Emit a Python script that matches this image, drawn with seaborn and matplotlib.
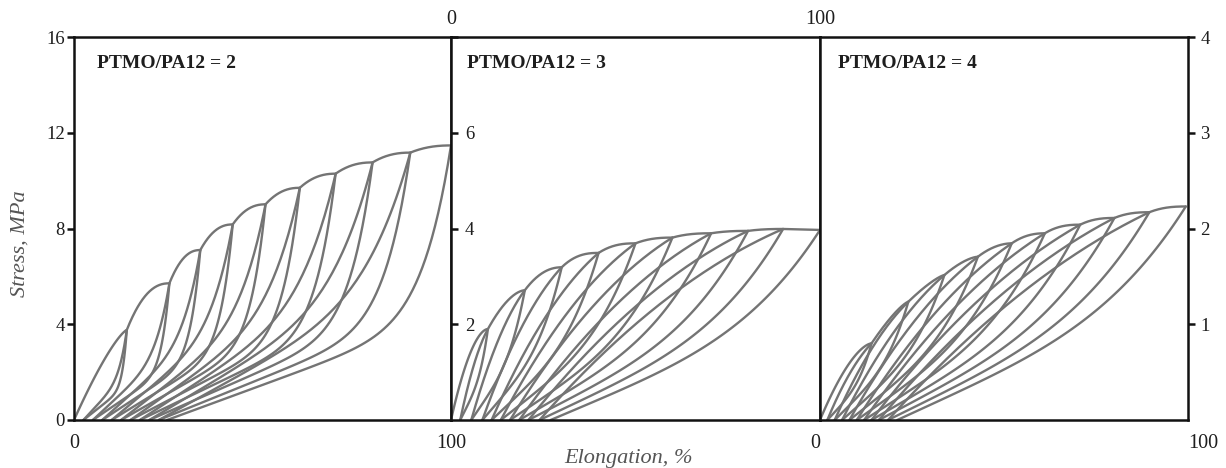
import numpy as np
import pandas as pd
import matplotlib
matplotlib.use("Agg")
import matplotlib.pyplot as plt
import seaborn as sns

# Peak strain (%), peak stress (MPa) and residual strain (%) of each loading cycle
strain_max_2 = [14.0, 25.3, 33.5, 42.1, 50.8, 59.9, 69.4, 79.2, 89.2, 100.0]
stress_max_2 = [3.76, 5.71, 7.10, 8.17, 9.01, 9.70, 10.29, 10.76, 11.17, 11.47]
residual_2 = [2.5, 5.0, 7.5, 10.0, 12.5, 15.0, 17.5, 20.0, 22.5, 24.7]

strain_max_3 = [10.0, 20.0, 30.0, 40.0, 50.0, 60.0, 70.5, 80.5, 90.0, 100.0]
stress_max_3 = [1.90, 2.71, 3.19, 3.49, 3.69, 3.81, 3.90, 3.95, 3.99, 3.97]
residual_3 = [2.5, 5.5, 8.5, 11.0, 13.5, 16.0, 18.5, 21.0, 24.0, 27.0]

strain_max_4 = [14.0, 24.0, 33.8, 42.9, 52.1, 61.1, 70.7, 80.0, 89.5, 99.4]
stress_max_4 = [0.80, 1.235, 1.514, 1.705, 1.845, 1.95, 2.04, 2.11, 2.17, 2.23]
residual_4 = [2.0, 4.0, 6.0, 8.0, 10.0, 12.0, 14.0, 16.0, 18.5, 21.0]

ratios = ["2", "3", "4"]
stress_ticks_2 = [0, 4, 8, 12, 16]
stress_ticks_3 = [2, 4, 6, 8]
stress_ticks_4 = [1, 2, 3, 4]
strain_ticks = [0, 100]

CURVE = "#747474"
FRAME = "#111111"
TEXT = "#1e1e1e"
LABEL = "#555555"


def shape(w, lin, pw):
    """Normalised branch shape; pw > 0 bends upward, pw < 0 bends downward."""
    if pw > 0:
        return lin * w + (1 - lin) * w ** pw
    return lin * w + (1 - lin) * (1 - (1 - w) ** (-pw))


def end_slope(lin, pw):
    return lin + (1 - lin) * pw if pw > 0 else lin


def cycle_table(panel, e_max, s_max, e_res, unload, reload, virgin,
                knee_max, n=90):
    rows = []
    cid = 0
    for k in range(len(e_max)):
        if k == 0:
            w = np.linspace(0, 1, n)
            e = e_max[0] * w
            s = s_max[0] * (1 - (1 - w) ** virgin)
        else:
            e0, e1 = e_res[k - 1], e_max[k - 1]
            w = np.linspace(0, 1, n)
            e_a = e0 + (e1 - e0) * w
            s_a = s_max[k - 1] * shape(w, *reload)
            slope = s_max[k - 1] * end_slope(*reload) / (e1 - e0)
            ds = s_max[k] - s_max[k - 1]
            de = e_max[k] - e1
            v = np.linspace(0, 1, n)[1:]
            if ds > 0.02:
                m = np.clip(slope * de / ds, 1.3, knee_max)
                s_b = s_max[k - 1] + ds * (1 - (1 - v) ** m)
            else:
                s_b = s_max[k - 1] + ds * v
            e_b = e1 + de * v
            e = np.concatenate([e_a, e_b])
            s = np.concatenate([s_a, s_b])
        rows.append(pd.DataFrame({"panel": panel, "curve": cid,
                                  "order": np.arange(len(e)),
                                  "strain": e, "stress": s}))
        cid += 1
        u = np.linspace(1, 0, n)
        e = e_res[k] + (e_max[k] - e_res[k]) * u
        s = s_max[k] * shape(u, *unload)
        rows.append(pd.DataFrame({"panel": panel, "curve": cid,
                                  "order": np.arange(len(e)),
                                  "strain": e, "stress": s}))
        cid += 1
    return pd.concat(rows, ignore_index=True)


data = pd.concat([
    cycle_table(ratios[0], strain_max_2, stress_max_2, residual_2,
                unload=(0.38, 10), reload=(0.52, 6), virgin=1.3,
                knee_max=2.3),
    cycle_table(ratios[1], strain_max_3, stress_max_3, residual_3,
                unload=(0.6, 4), reload=(0.55, -2), virgin=1.8,
                knee_max=2.5),
    cycle_table(ratios[2], strain_max_4, stress_max_4, residual_4,
                unload=(0.62, 4), reload=(0.6, -2), virgin=1.6,
                knee_max=2.5),
], ignore_index=True)

sns.set_theme(style="white")
plt.rcParams["font.family"] = ["Liberation Serif", "DejaVu Serif"]

fig = plt.figure(figsize=(12.26, 4.68), dpi=100)
bottom, height = 1 - 420 / 468, (420 - 37) / 468
edges = [74, 451, 820, 1188]
axes = []
for i in range(3):
    x0 = edges[i] / 1226
    w = (edges[i + 1] - edges[i]) / 1226
    axes.append(fig.add_axes([x0, bottom, w, height]))

ylims = [16, 8, 4]
title_dx = [0.061, 0.043, 0.049]
for ax, ratio, ymax, dx in zip(axes, ratios, ylims, title_dx):
    sub = data[data["panel"] == ratio]
    sns.lineplot(data=sub, x="strain", y="stress", units="curve",
                 estimator=None, sort=False, color=CURVE, lw=1.7,
                 legend=False, ax=ax)
    ax.set_xlim(0, 100)
    ax.set_ylim(0, ymax)
    ax.set_xlabel("")
    ax.set_ylabel("")
    ax.set_facecolor("white")
    for sp in ax.spines.values():
        sp.set_visible(True)
        sp.set_color(FRAME)
        sp.set_linewidth(1.8)
    ax.text(dx, 0.93, f"PTMO/PA12 = {ratio}", transform=ax.transAxes,
            fontsize=14, fontweight="bold", color=TEXT, va="center",
            ha="left")

ax1, ax2, ax3 = axes

# left panel: stress scale on the left, strain on the bottom
ax1.set_yticks(stress_ticks_2)
ax1.set_yticklabels([str(t) for t in stress_ticks_2])
ax1.tick_params(axis="y", left=True, right=False, direction="out",
                length=5, width=1.8, color=FRAME, pad=1.5,
                labelsize=13.5, labelcolor=TEXT)
ax1.set_xticks(strain_ticks)
ax1.set_xticklabels([str(t) for t in strain_ticks])
ax1.tick_params(axis="x", bottom=True, top=False, length=0, pad=10,
                labelsize=14.5, labelcolor=TEXT)

# middle panel: stress scale inside the left edge, strain on top
ax2.set_yticks(stress_ticks_3)
ax2.set_yticklabels([str(t) if t < 8 else "" for t in stress_ticks_3],
                    ha="left")
ax2.tick_params(axis="y", left=True, right=False, direction="in",
                length=5, width=1.8, color=FRAME, pad=-10,
                labelsize=13.5, labelcolor=TEXT)
ax2.set_xticks(strain_ticks)
ax2.set_xticklabels([str(t) for t in strain_ticks])
ax2.tick_params(axis="x", bottom=False, top=True, labelbottom=False,
                labeltop=True, length=0, pad=6, labelsize=14.5,
                labelcolor=TEXT)

# right panel: stress scale on the right, strain on the bottom
ax3.yaxis.tick_right()
ax3.set_yticks(stress_ticks_4)
ax3.set_yticklabels([str(t) for t in stress_ticks_4])
ax3.tick_params(axis="y", right=True, left=False, labelright=True,
                labelleft=False, direction="out", length=5, width=1.8,
                color=FRAME, pad=4, labelsize=13.5, labelcolor=TEXT)
ax3.set_xticks(strain_ticks)
ax3.set_xticklabels([str(t) for t in strain_ticks])
ax3.tick_params(axis="x", bottom=True, top=False, length=0, pad=10,
                labelsize=14.5, labelcolor=TEXT)
xl = ax3.get_xticklabels()
xl[0].set_ha("right")
xl[1].set_ha("left")

fig.text(20 / 1226, 1 - 244 / 468, "Stress, MPa", rotation=90,
         style="italic", fontsize=16, color=LABEL, ha="center", va="center")
fig.text(629 / 1226, 1 - 458 / 468, "Elongation, %", style="italic",
         fontsize=16, color=LABEL, ha="center", va="center")

fig.savefig("out.png", dpi=100, facecolor="white")
